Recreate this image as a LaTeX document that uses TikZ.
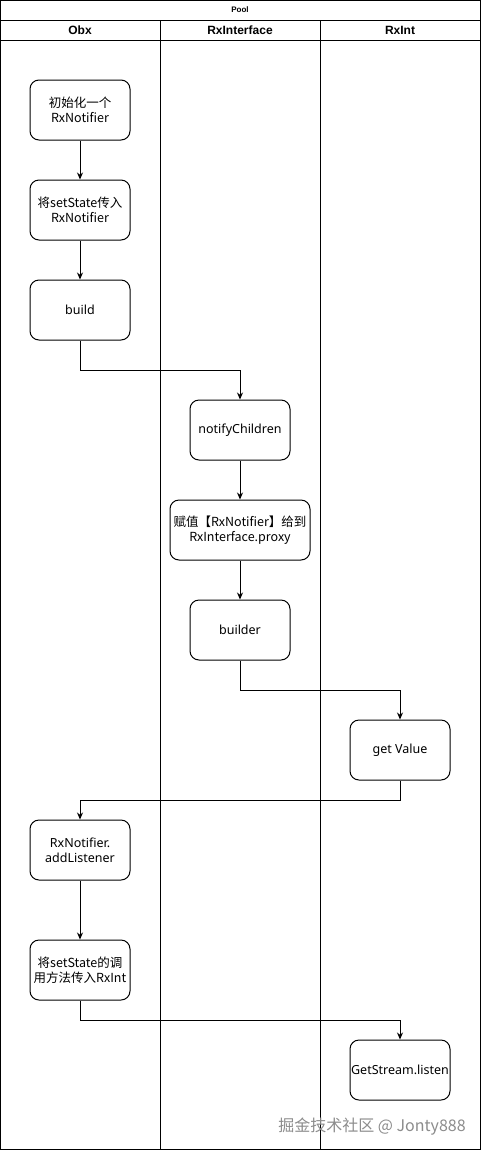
\documentclass[tikz,border=0pt]{standalone}
\usepackage{fontspec}
\setmainfont{Liberation Sans}
\newfontfamily\cjk{Noto Sans CJK SC}
\newfontfamily\boxfont{Noto Sans}
\usetikzlibrary{arrows.meta}
\begin{document}
\begin{tikzpicture}[x=1pt,y=-1pt,
  lane/.style={draw=black,line width=1pt},
  box/.style={draw=black,line width=1pt,rounded corners=9pt,minimum width=100pt,minimum height=60pt,align=center,inner sep=1pt,font=\boxfont\fontsize{12.5}{15}\selectfont},
  cbox/.style={box,font=\cjk\fontsize{12.5}{15}\selectfont},
  arr/.style={draw=black,line width=1pt,-{Stealth[length=7pt,width=6pt]}},
  lanetitle/.style={font=\bfseries\fontsize{12}{14}\selectfont},
]
\useasboundingbox (0,0) rectangle (481,1152);
\fill[white] (0,0) rectangle (481,1152);
% pool frame
\draw[lane] (0.5,0.5) rectangle (480,1149);
\draw[lane] (0.5,20) -- (480,20);
\draw[lane] (0.5,40) -- (480,40);
\draw[lane] (160,20) -- (160,1149);
\draw[lane] (320,20) -- (320,1149);
\node[font=\bfseries\fontsize{8}{10}\selectfont] (pool) at (240,10) {Pool};
\node[lanetitle] (l1) at (80,30) {Obx};
\node[lanetitle] (l2) at (240,30) {RxInterface};
\node[lanetitle] (l3) at (400,30) {RxInt};
% nodes
\node[cbox] (init) at (80,110) {初始化一个\\RxNotifier};
\node[cbox] (setst) at (80,210) {将setState传入\\RxNotifier};
\node[box] (build) at (80,310) {build};
\node[box] (notify) at (240,430) {notifyChildren};
\node[cbox,minimum width=140pt] (assign) at (240,530) {赋值【RxNotifier】给到\\RxInterface.proxy};
\node[box] (builder) at (240,630) {builder};
\node[box] (getv) at (400,750) {get Value};
\node[box] (addl) at (80,850) {RxNotifier.\\addListener};
\node[cbox] (pass) at (80,970) {将setState的调\\用方法传入RxInt};
\node[box] (listen) at (400,1070) {GetStream.listen};
% connectors
\draw[arr] (init) -- (setst);
\draw[arr] (setst) -- (build);
\draw[arr] (build.south) -- ++(0,30) -| (notify.north);
\draw[arr] (notify) -- (assign);
\draw[arr] (assign) -- (builder);
\draw[arr] (builder.south) -- ++(0,30) -| (getv.north);
\draw[arr] (getv.south) -- ++(0,20) -| (addl.north);
\draw[arr] (addl) -- (pass);
\draw[arr] (pass.south) -- ++(0,20) -| (listen.north);
% watermark
\node[font=\cjk\fontsize{16}{18}\selectfont,text=black!45] (wm) at (372,1127) {掘金技术社区 @ Jonty888};
\end{tikzpicture}
\end{document}
